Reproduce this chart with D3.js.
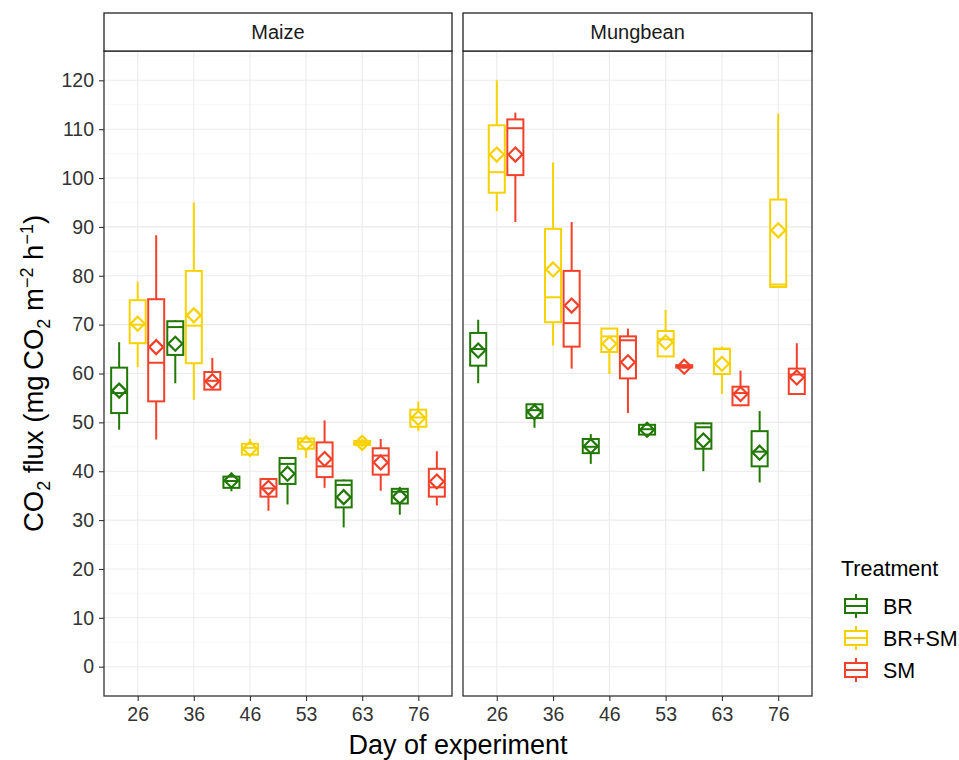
<!DOCTYPE html>
<html><head><meta charset="utf-8">
<script src="https://cdn.jsdelivr.net/npm/d3@7"></script>
<style>body{margin:0;background:#fff;} text{font-family:"Liberation Sans",Arial,sans-serif;}</style>
</head><body>
<svg id="chart" width="959" height="760"></svg>
<script>
// ---- data ----
const days = ["26","36","46","53","63","76"];
const treatments = ["BR","BR+SM","SM"];
const crops = ["Maize","Mungbean"];
const yTicks = [0,10,20,30,40,50,60,70,80,90,100,110,120];
// each entry per day: [lower whisker, Q1, median, Q3, upper whisker, mean]
const maizeBR = [[48.5,51.9,56,61.2,66.4,56.5],[58.0,63.8,69.5,70.7,70.9,66.1],[35.9,36.6,38,38.9,39.7,38.1],[33.2,37.4,41.5,42.7,42.9,39.5],[28.5,32.6,37.2,38.1,38.3,34.7],[31.1,33.4,35.8,36.4,36.8,34.8]];
const maizeBRSM = [[61.3,66.2,70,75.0,78.8,70.2],[54.6,62.1,69.8,81.0,95,71.9],[43.0,43.4,44.8,45.6,46.6,44.6],[42.7,44.6,46,46.7,47.0,45.7],[45.0,45.4,45.8,46.2,46.6,45.8],[48.2,49.1,51,52.6,54.3,50.9]];
const maizeSM = [[46.5,54.3,62.2,75.2,88.3,65.4],[56.7,56.7,58.5,60.3,63.2,58.4],[31.9,34.8,36.5,38.4,38.6,36.6],[36.6,38.8,41,45.9,50.4,42.5],[36.0,39.3,43.2,44.7,46.6,41.8],[33.0,34.8,36.7,40.5,44.1,37.9]];
const mungBR = [[58.0,61.6,65,68.3,71.0,64.7],[48.9,50.9,52.5,53.7,53.9,52.1],[41.5,43.7,45,46.6,47.6,45.1],[47.3,47.5,48.6,49.5,49.8,48.5],[40.0,44.6,49,49.8,50.0,46.3],[37.7,41,44,48.2,52.3,43.8]];
const mungBRSM = [[93.2,97.0,101.2,110.8,120.0,104.8],[65.7,70.5,75.6,89.6,103.2,81.3],[59.9,64.4,67.6,69.2,69.3,66.1],[63.5,63.5,67,68.7,73.0,66.4],[55.8,59.9,65,65.1,65.5,62.0],[77.5,77.7,78.2,95.6,113.2,89.3]];
const mungSM = [[91.0,100.6,110.2,112.0,113.4,104.8],[61.0,65.5,70.3,81.0,91.0,73.9],[51.9,59.0,66.8,67.6,69.2,62.3],[61.0,61.2,61.4,61.7,61.9,61.4],[53.3,53.5,56,57.3,60.6,55.8],[55.8,55.8,59.8,61.0,66.2,59.2]];
const colors = ["#227805","#f7d200","#f2412a"];

const seriesByCrop = {Maize:[maizeBR,maizeBRSM,maizeSM], Mungbean:[mungBR,mungBRSM,mungSM]};

// ---- layout ----
const svg = d3.select("#chart");
const panelTop = 51, panelBottom = 696, stripTop = 13;
const panels = [{crop:"Maize",x0:104,x1:452},{crop:"Mungbean",x0:463,x1:812}];
const y = d3.scaleLinear().domain([-6,126]).range([panelBottom,panelTop]);
const minorTicks = d3.range(5,126,10);

panels.forEach((p,pi)=>{
  const x = d3.scalePoint().domain(days).range([p.x0,p.x1]).padding(0.6);
  const step = x.step();
  const g = svg.append("g");
  g.append("rect").attr("x",p.x0).attr("y",panelTop).attr("width",p.x1-p.x0).attr("height",panelBottom-panelTop).attr("fill","#fff");
  g.selectAll(".minor").data(minorTicks).join("line")
    .attr("x1",p.x0).attr("x2",p.x1).attr("y1",d=>y(d)).attr("y2",d=>y(d))
    .attr("stroke","#f3f3f3").attr("stroke-width",0.6);
  g.selectAll(".majy").data(yTicks).join("line")
    .attr("x1",p.x0).attr("x2",p.x1).attr("y1",d=>y(d)).attr("y2",d=>y(d))
    .attr("stroke","#ebebeb").attr("stroke-width",1.1);
  g.selectAll(".majx").data(days).join("line")
    .attr("x1",d=>x(d)).attr("x2",d=>x(d)).attr("y1",panelTop).attr("y2",panelBottom)
    .attr("stroke","#ebebeb").attr("stroke-width",1.1);

  const series = seriesByCrop[p.crop];
  const bw = 0.285*step;
  series.forEach((s,ti)=>{
    const col = colors[ti];
    const off = (ti-1)*0.33*step;
    s.forEach((v,di)=>{
      const cx = x(days[di]) + off;
      const [lo,q1,med,q3,hi,mean] = v;
      const bg = g.append("g").attr("stroke",col).attr("stroke-width",2).attr("fill","none");
      bg.append("line").attr("x1",cx).attr("x2",cx).attr("y1",y(hi)).attr("y2",y(q3));
      bg.append("line").attr("x1",cx).attr("x2",cx).attr("y1",y(q1)).attr("y2",y(lo));
      bg.append("rect").attr("x",cx-bw/2).attr("y",y(q3)).attr("width",bw).attr("height",Math.max(0.5,y(q1)-y(q3))).attr("fill","#fff");
      bg.append("line").attr("x1",cx-bw/2).attr("x2",cx+bw/2).attr("y1",y(med)).attr("y2",y(med));
      const my = y(mean), r = 7;
      bg.append("path").attr("d",`M${cx},${my-r}L${cx+r},${my}L${cx},${my+r}L${cx-r},${my}Z`).attr("stroke-width",2.2);
    });
  });

  g.append("rect").attr("x",p.x0).attr("y",panelTop).attr("width",p.x1-p.x0).attr("height",panelBottom-panelTop)
    .attr("fill","none").attr("stroke","#333").attr("stroke-width",1.3);
  g.append("rect").attr("x",p.x0).attr("y",stripTop).attr("width",p.x1-p.x0).attr("height",panelTop-stripTop)
    .attr("fill","#fff").attr("stroke","#222").attr("stroke-width",1.3);
  g.append("text").attr("x",(p.x0+p.x1)/2).attr("y",(stripTop+panelTop)/2).attr("dy","0.35em")
    .attr("text-anchor","middle").attr("font-size",20).attr("fill","#1a1a1a").text(p.crop);

  const xa = svg.append("g").attr("transform",`translate(0,${panelBottom})`)
    .call(d3.axisBottom(x).tickSize(5).tickPadding(6));
  xa.select(".domain").remove();
  xa.selectAll("line").attr("stroke","#333").attr("stroke-width",1.1);
  xa.selectAll("text").attr("font-size",19.5).attr("fill","#333").attr("font-family","Liberation Sans, Arial, sans-serif");

  if(pi===0){
    const ya = svg.append("g").attr("transform",`translate(${p.x0},0)`)
      .call(d3.axisLeft(y).tickValues(yTicks).tickSize(5).tickPadding(5));
    ya.select(".domain").remove();
    ya.selectAll("line").attr("stroke","#333").attr("stroke-width",1.1);
    ya.selectAll("text").attr("font-size",19.5).attr("fill","#333").attr("font-family","Liberation Sans, Arial, sans-serif");
  }
});

// axis titles
svg.append("text").attr("x",458).attr("y",754).attr("text-anchor","middle").attr("font-size",27).attr("fill","#000").text("Day of experiment");
const yt = svg.append("text").attr("transform",`translate(43,${(panelTop+panelBottom)/2}) rotate(-90)`)
  .attr("text-anchor","middle").attr("font-size",27.5).attr("fill","#000");
yt.append("tspan").text("CO");
yt.append("tspan").attr("font-size",18).attr("dy",7).text("2");
yt.append("tspan").attr("dy",-7).text(" flux (mg\u2009CO");
yt.append("tspan").attr("font-size",18).attr("dy",7).text("2");
yt.append("tspan").attr("dy",-7).text(" m");
yt.append("tspan").attr("font-size",18).attr("dy",-10).text("\u22122");
yt.append("tspan").attr("dy",10).text(" h");
yt.append("tspan").attr("font-size",18).attr("dy",-10).text("\u22121");
yt.append("tspan").attr("dy",10).text(")");

// legend
const lg = svg.append("g");
lg.append("text").attr("x",841).attr("y",568).attr("dy","0.35em").attr("font-size",21.5).attr("fill","#000").text("Treatment");
treatments.forEach((t,i)=>{
  const cy = 606 + i*32, cx = 856;
  const k = lg.append("g").attr("stroke",colors[i]).attr("stroke-width",2).attr("fill","none");
  k.append("line").attr("x1",cx).attr("x2",cx).attr("y1",cy-12).attr("y2",cy+12);
  k.append("rect").attr("x",cx-11).attr("y",cy-7).attr("width",22).attr("height",14).attr("fill","#fff");
  k.append("line").attr("x1",cx-11).attr("x2",cx+11).attr("y1",cy).attr("y2",cy);
  lg.append("text").attr("x",883).attr("y",cy).attr("dy","0.35em").attr("font-size",21.5).attr("fill","#000").text(t);
});
</script>
</body></html>
